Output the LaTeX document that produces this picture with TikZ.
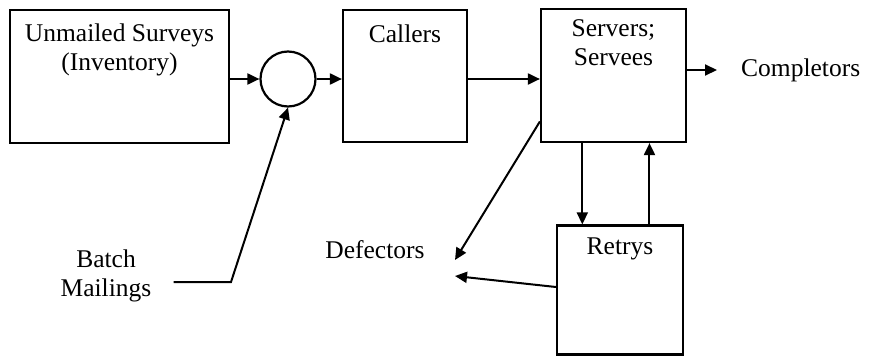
\documentclass[tikz,border=0pt]{standalone}
\usepackage{fontspec}
\setmainfont{Liberation Serif}
\usetikzlibrary{positioning,calc,arrows.meta}

\begin{document}
\begin{tikzpicture}[x=1pt,y=-1pt,
  font=\fontsize{25.5}{29}\selectfont,
  box/.style={draw,line width=2.2pt,rectangle,inner sep=0pt},
  txt/.style={inner sep=0pt,align=center},
  arr/.style={line width=2pt,-{Triangle[length=12pt,width=11pt]}}]
  \useasboundingbox (0,0) rectangle (877,356);

  % boxes and the merge circle
  \node[box,minimum width=219pt,minimum height=133pt] (inv) at (119.5,76.5) {};
  \node[box,circle,minimum size=55pt] (circ) at (288,79) {};
  \node[box,minimum width=124pt,minimum height=132pt] (call) at (405,76) {};
  \node[box,minimum width=145pt,minimum height=133pt] (serv) at (613.5,75.5) {};
  \node[box,minimum width=126pt,minimum height=129pt] (retry) at (620,290) {};

  % box titles
  \node[txt,below=15pt of inv.north] (invtxt) {Unmailed Surveys\\(Inventory)};
  \node[txt,below=16pt of call.north] (calltxt) {Callers};
  \node[txt,below=12pt of serv.north] (servtxt) {Servers;\\Servees};
  \node[txt,below=13pt of retry.north] (retrytxt) {Retrys};

  % free labels
  \node[txt,anchor=west] (comp) at (741,70) {Completors};
  \node[txt] (defect) at (375,250) {Defectors};
  \node[txt] (batch) at (106,276) {Batch\\Mailings};

  \coordinate (bend) at (231,282);
  \coordinate (d1) at (455,260);
  \coordinate (d2) at (455,276);
  \coordinate (dn) at ($(retry.north west)!0.206!(retry.north east)$);
  \coordinate (up) at ($(retry.north west)!0.73!(retry.north east)$);

  % flows
  \draw[arr] (inv.east |- circ.west) -- (circ.west);
  \draw[arr] (circ.east) -- (circ.east -| call.west);
  \draw[arr] (call.east |- circ.east) -- (circ.east -| serv.west);
  \draw[arr,shorten >=24pt] (serv.east |- comp.west) -- (comp.west);
  \draw[arr] (serv.south -| dn) -- (dn);
  \draw[arr] (up) -- (serv.south -| up);
  \draw[arr] ($(serv.south west)!0.16!(serv.north west)$) -- (d1);
  \draw[arr] (retry.west |- 0,287) -- (d2);
  \draw[arr,shorten <=22pt] (batch.east |- bend) -- (bend) -- (circ.south);
\end{tikzpicture}
\end{document}
